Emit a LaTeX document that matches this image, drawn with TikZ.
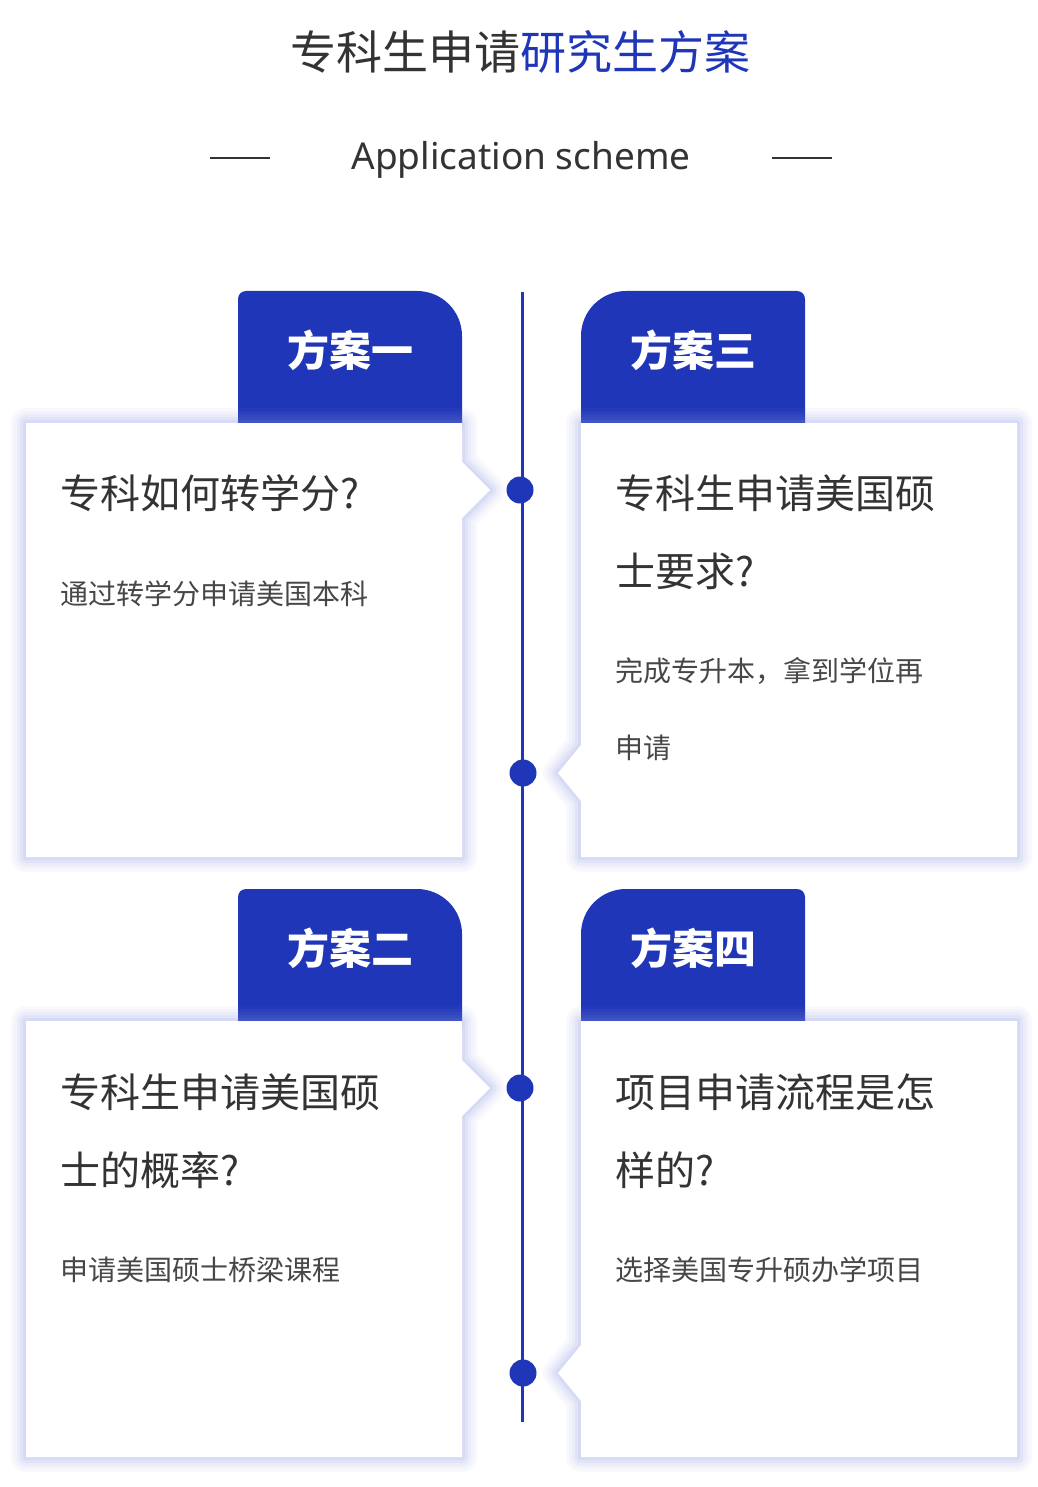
\documentclass[tikz,border=0pt]{standalone}
\usepackage{fontspec}
\newfontfamily\cjk{Noto Sans CJK SC}
\newfontfamily\lat{Noto Sans}
\definecolor{mainblue}{HTML}{1F36B8}
\definecolor{txt}{HTML}{333333}
\definecolor{glow}{HTML}{8C98E6}
\tikzset{
  tabbox/.style={fill=mainblue},
  tabtext/.style={text=white,font=\cjk\bfseries\fontsize{42}{48}\selectfont,anchor=center},
  headtext/.style={text=txt,font=\cjk\fontsize{40}{78}\selectfont,anchor=west,inner sep=0pt},
  bodytext/.style={text=txt!90,font=\cjk\fontsize{28}{77}\selectfont,anchor=west,inner sep=0pt},
  dotnode/.style={circle,fill=mainblue,minimum size=27pt,inner sep=0pt},
}
\newcommand{\glowcard}[1]{%
  \foreach \w/\o in {30/0.05,24/0.06,18/0.07,12/0.09,6/0.12}{
    \draw[glow,line width=\w pt,draw opacity=\o,line join=round] #1;
  }
  \fill[white] #1;
}
\begin{document}
\begin{tikzpicture}[x=1pt,y=-1pt]
\useasboundingbox[fill=white] (0,0) rectangle (1037,1487);
% title
\node[font=\cjk\fontsize{46}{52}\selectfont,anchor=center] (title) at (520,52)
  {\textcolor{txt}{专科生申请}\textcolor{mainblue}{研究生方案}};
\node[font=\lat\fontsize{37}{42}\selectfont,text=txt,anchor=center] (sub) at (521,160) {Application scheme};
\coordinate (la) at (210,158); \coordinate (lb) at (270,158);
\coordinate (ra) at (772,158); \coordinate (rb) at (832,158);
\draw[txt,line width=2pt] (la)--(lb);
\draw[txt,line width=2pt] (ra)--(rb);
% timeline
\coordinate (ttop) at (522,292); \coordinate (tbot) at (522,1422);
\draw[mainblue,line width=3pt] (ttop)--(tbot);
% tabs
\fill[tabbox] (238,430) [rounded corners=8] -- (238,291) [rounded corners=45] -- (462,291) [sharp corners] -- (462,430) -- cycle;
\fill[tabbox] (581,430) [rounded corners=45] -- (581,291) [rounded corners=8] -- (805,291) [sharp corners] -- (805,430) -- cycle;
\fill[tabbox] (238,1028) [rounded corners=8] -- (238,889) [rounded corners=45] -- (462,889) [sharp corners] -- (462,1028) -- cycle;
\fill[tabbox] (581,1028) [rounded corners=45] -- (581,889) [rounded corners=8] -- (805,889) [sharp corners] -- (805,1028) -- cycle;
% cards
\glowcard{(26,423)--(462,423)--(462,462)--(490,490)--(462,518)--(462,857)--(26,857)--cycle}
\glowcard{(581,423)--(1017,423)--(1017,857)--(581,857)--(581,801)--(558,773)--(581,745)--cycle}
\glowcard{(26,1021)--(462,1021)--(462,1060)--(490,1088)--(462,1116)--(462,1457)--(26,1457)--cycle}
\glowcard{(581,1021)--(1017,1021)--(1017,1457)--(581,1457)--(581,1401)--(558,1373)--(581,1345)--cycle}
% tab texts
\node[tabtext] (t1) at (350,350) {方案一};
\node[tabtext] (t3) at (693,350) {方案三};
\node[tabtext] (t2) at (350,948) {方案二};
\node[tabtext] (t4) at (693,948) {方案四};
% dots
\node[dotnode] (d1) at (520,490) {};
\node[dotnode] (d2) at (523,773) {};
\node[dotnode] (d3) at (520,1088) {};
\node[dotnode] (d4) at (523,1373) {};
% card texts
\node[headtext] (h1) at (60,493) {专科如何转学分?};
\node[bodytext] (b1) at (60,594) {通过转学分申请美国本科};
\node[headtext] (h3a) at (615,493) {专科生申请美国硕};
\node[headtext] (h3b) at (615,571) {士要求?};
\node[bodytext] (b3a) at (615,671) {完成专升本，拿到学位再};
\node[bodytext] (b3b) at (615,748) {申请};
\node[headtext] (h2a) at (60,1092) {专科生申请美国硕};
\node[headtext] (h2b) at (60,1170) {士的概率?};
\node[bodytext] (b2) at (60,1270) {申请美国硕士桥梁课程};
\node[headtext] (h4a) at (615,1092) {项目申请流程是怎};
\node[headtext] (h4b) at (615,1170) {样的?};
\node[bodytext] (b4) at (615,1270) {选择美国专升硕办学项目};
\end{tikzpicture}
\end{document}
